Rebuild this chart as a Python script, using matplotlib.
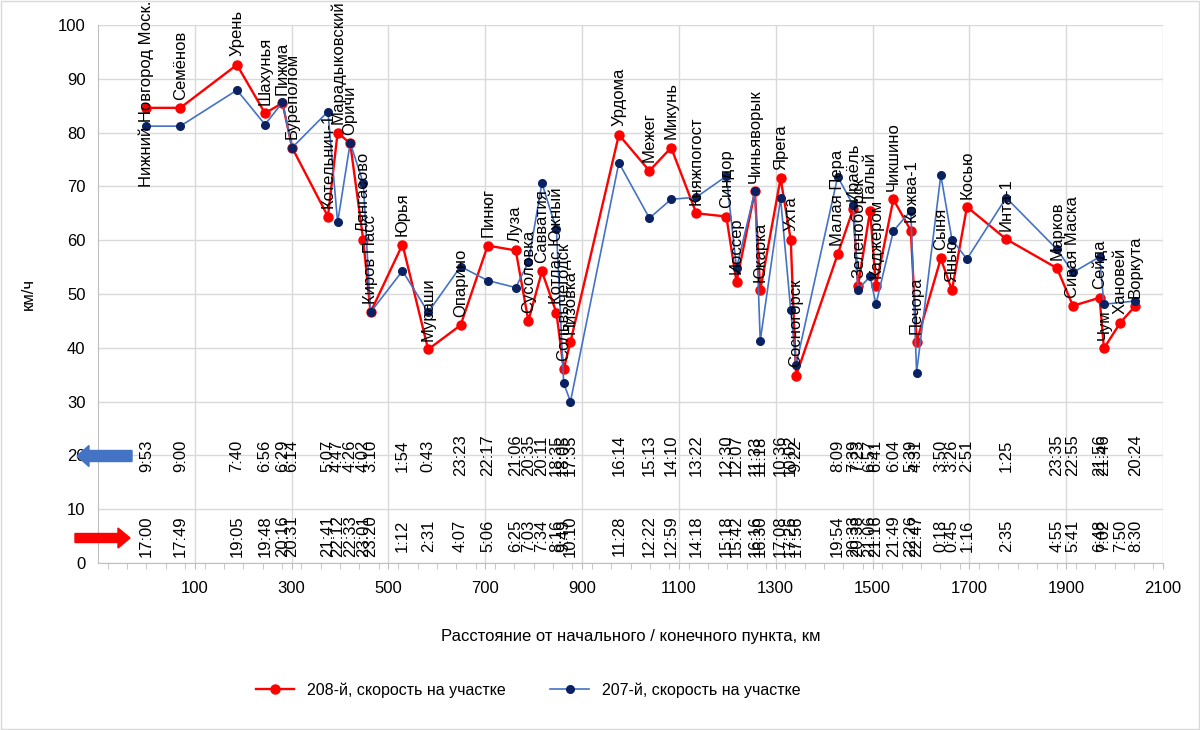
import numpy as np
import matplotlib
matplotlib.use("Agg")
import matplotlib.pyplot as plt
from matplotlib.patches import FancyArrow
from matplotlib.ticker import MultipleLocator

plt.rcParams['font.family'] = ['Liberation Sans', 'DejaVu Sans']

stations = ["Нижний Новгород Моск.", "Семёнов", "Урень", "Шахунья", "Пижма", "Буреполом",
            "Котельнич-1", "Марадыковский", "Оричи", "Лянгасово", "Киров Пасс", "Юрья",
            "Мураши", "Опарино", "Пинюг", "Луза", "Сусоловка", "Савватия", "Котлас Южный",
            "Сольвычегодск", "Низовка", "Урдома", "Межег", "Микунь", "Княжпогост", "Синдор",
            "Иоссер", "Чиньяворык", "Юкарка", "Ярега", "Ухта", "Сосногорск", "Малая Пера",
            "Ираёль", "Зеленоборск", "Талый", "Каджером", "Чикшино", "Кожва-1", "Печора",
            "Сыня", "Янью", "Косью", "Инта-1", "Марков", "Сивая Маска", "Сейда", "Чум",
            "Хановей", "Воркута"]

km = [0, 70, 187, 245, 281, 301,
      375, 395, 421, 448, 463, 529,
      582, 649, 705, 763, 789, 817, 847,
      862, 876, 976, 1039, 1084, 1136, 1198,
      1219, 1257, 1268, 1310, 1331, 1342, 1428,
      1460, 1470, 1495, 1507, 1543, 1579, 1591,
      1641, 1664, 1695, 1776, 1881, 1914, 1969, 1978,
      2012, 2043]

# скорость на участке, км/ч
v208 = [84.6, 84.6, 92.6, 83.6, 85.5, 77.2,
        64.4, 80.0, 78.0, 60.0, 46.6, 59.2,
        39.7, 44.2, 59.0, 58.1, 45.0, 54.2, 46.5,
        36.0, 41.1, 79.6, 72.9, 77.2, 65.0, 64.4,
        52.2, 69.1, 50.7, 71.5, 60.1, 34.8, 57.4,
        65.8, 51.5, 65.5, 51.5, 67.6, 61.8, 41.1,
        56.6, 50.7, 66.2, 60.2, 54.8, 47.8, 49.3, 39.9,
        44.7, 47.8]

v207 = [81.2, 81.2, 87.9, 81.5, 85.6, 77.2,
        83.9, 63.3, 78.1, 70.6, 46.6, 54.3,
        46.6, 55.1, 52.5, 51.2, 55.9, 70.6, 62.0,
        33.4, 30.0, 74.4, 64.1, 67.6, 68.0, 71.9,
        54.8, 69.1, 41.3, 67.8, 47.0, 36.8, 71.8,
        66.5, 50.8, 53.3, 48.1, 61.7, 65.5, 35.4,
        72.1, 60.1, 56.5, 67.9, 58.3, 54.0, 56.9, 48.1,
        np.nan, 48.7]

t207 = ["9:53", "9:00", "7:40", "6:56", "6:29", "6:14",
        "5:07", "4:47", "4:26", "4:02", "3:10", "1:54",
        "0:43", "23:23", "22:17", "21:06", "20:35", "20:11", "18:35",
        "18:05", "17:35", "16:14", "15:13", "14:10", "13:22", "12:30",
        "12:07", "11:33", "11:18", "10:36", "10:02", "9:22", "8:09",
        "7:39", "7:23", "6:57", "6:41", "6:04", "5:39", "4:31",
        "3:50", "3:26", "2:51", "1:25", "23:35", "22:55", "21:56", "21:46",
        "", "20:24"]

t208 = ["17:00", "17:49", "19:05", "19:48", "20:16", "20:31",
        "21:41", "22:12", "22:33", "23:01", "23:20", "1:12",
        "2:31", "4:07", "5:06", "6:25", "7:03", "7:34", "8:16",
        "9:49", "10:10", "11:28", "12:22", "12:59", "14:18", "15:18",
        "15:42", "16:16", "16:30", "17:08", "17:26", "17:56", "19:54",
        "20:33", "20:38", "21:06", "21:16", "21:49", "22:26", "22:47",
        "0:18", "0:45", "1:16", "2:35", "4:55", "5:41", "6:48", "7:02",
        "7:50", "8:30"]

km = np.array(km, dtype=float)
v208 = np.array(v208)
v207 = np.array(v207)

fig = plt.figure(figsize=(12, 7.3), dpi=100)
ax = fig.add_axes([98 / 1200, 1 - 563 / 730, (1163 - 98) / 1200, (563 - 25) / 730])

ax.plot(km, v208, color='#FF0000', lw=1.7, marker='o', ms=6.5,
        mfc='#FF0000', mec='#FF0000', label='208-й, скорость на участке', zorder=3)
ok = ~np.isnan(v207)
ax.plot(km[ok], v207[ok], color='#4472C4', lw=1.2, marker='o', ms=5.5,
        mfc='#0B2262', mec='#0B2262', label='207-й, скорость на участке', zorder=4)

# подписи станций
labels = []
for x, y, name in zip(km, v208, stations):
    t = ax.annotate(name, (x, y), xytext=(0, 6), textcoords='offset points',
                    rotation=90, ha='center', va='bottom', fontsize=12,
                    annotation_clip=False, zorder=5)
    labels.append(t)

# время
for x, s in zip(km, t207):
    if s:
        ax.text(x, 20, s, rotation=90, ha='center', va='center', fontsize=12)
for x, s in zip(km, t208):
    ax.text(x, 5, s, rotation=90, ha='center', va='center', fontsize=12)

ax.set_xlim(-100, 2100)
ax.set_ylim(0, 100)
ax.set_xticks(np.arange(100, 2101, 200))
ax.xaxis.set_minor_locator(MultipleLocator(40))
ax.set_yticks(np.arange(0, 101, 10))
ax.grid(True, which='major', color='#D9D9D9', lw=1)
ax.set_axisbelow(True)
for s in ['top', 'right']:
    ax.spines[s].set_visible(False)
for s in ['left', 'bottom']:
    ax.spines[s].set_color('#BFBFBF')
ax.tick_params(axis='y', length=0, pad=9, labelsize=12)
ax.tick_params(axis='x', which='major', length=4, color='#BFBFBF', pad=9, labelsize=12)
ax.tick_params(axis='x', which='minor', length=4, color='#BFBFBF')

ax.set_xlabel('Расстояние от начального / конечного пункта, км', fontsize=12, labelpad=24)
ax.set_ylabel('км/ч', fontsize=12, labelpad=16)

leg = fig.legend(loc='center', bbox_to_anchor=(0.44, 1 - 690 / 730), ncol=2,
                 frameon=False, fontsize=11.5, handlelength=2.4, columnspacing=2.8)

# стрелки направления
W, H = 1200, 730
fig.patches.append(FancyArrow(132 / W, 1 - 456 / H, -55 / W, 0, width=11 / H,
                              head_width=21 / H, head_length=12 / W,
                              length_includes_head=True, color='#4472C4',
                              transform=fig.transFigure, figure=fig))
fig.patches.append(FancyArrow(75 / W, 1 - 538 / H, 55 / W, 0, width=9 / H,
                              head_width=20 / H, head_length=12 / W,
                              length_includes_head=True, color='#FF0000',
                              transform=fig.transFigure, figure=fig))

# рамка
fig.patches.append(plt.Rectangle((0.001, 0.001), 0.998, 0.998, fill=False,
                                 ec='#D9D9D9', lw=1, transform=fig.transFigure, figure=fig))

# сдвинуть подписи, выходящие за верх
fig.canvas.draw()
r = fig.canvas.get_renderer()
for t in labels:
    bb = t.get_window_extent(r)
    if bb.y1 > fig.bbox.height:
        dx, dy = t.xyann
        t.xyann = (dx, dy - (bb.y1 - fig.bbox.height + 1) * 72 / fig.dpi)

fig.savefig('out.png', dpi=100)
